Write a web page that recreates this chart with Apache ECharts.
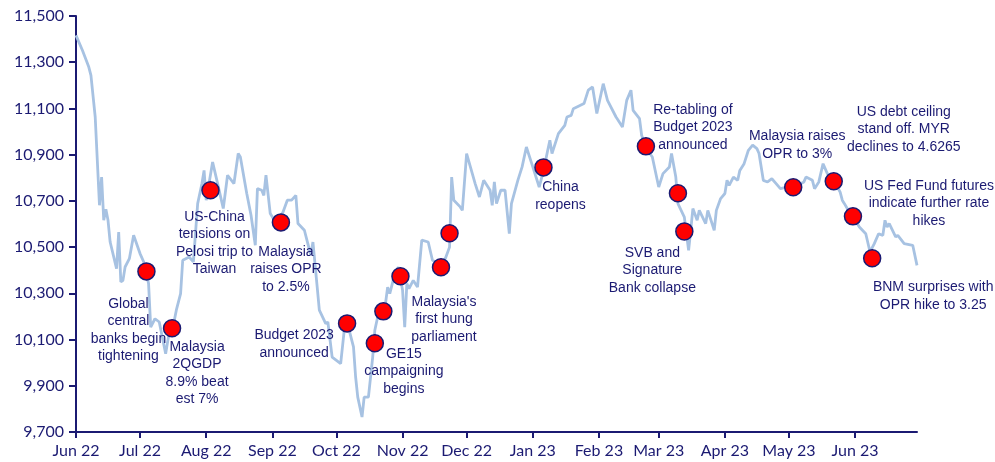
<!DOCTYPE html>
<html>
<head>
<meta charset="utf-8">
<script src="https://cdn.jsdelivr.net/npm/echarts@6/dist/echarts.min.js"></script>
<style>
html,body{margin:0;padding:0;background:#fff;}
#chart{width:995px;height:462px;}
</style>
</head>
<body>
<div id="chart"></div>
<script>
// ---- Data ----
const lineDates = [
'2022-06-01','2022-06-04','2022-06-07','2022-06-08','2022-06-10','2022-06-12','2022-06-13','2022-06-14','2022-06-15','2022-06-16',
'2022-06-17','2022-06-20','2022-06-21','2022-06-22','2022-06-23','2022-06-24','2022-06-26','2022-06-28','2022-07-01','2022-07-03',
'2022-07-05','2022-07-06','2022-07-08','2022-07-10','2022-07-13','2022-07-15','2022-07-17','2022-07-18','2022-07-20','2022-07-21',
'2022-07-24','2022-07-26','2022-07-28','2022-07-30','2022-07-31','2022-08-01','2022-08-04','2022-08-06','2022-08-09','2022-08-11',
'2022-08-14','2022-08-16','2022-08-17','2022-08-20','2022-08-22','2022-08-24','2022-08-25','2022-08-27','2022-08-28','2022-08-29',
'2022-08-31','2022-09-03','2022-09-06','2022-09-08','2022-09-10','2022-09-12','2022-09-13','2022-09-16','2022-09-19','2022-09-20',
'2022-09-22','2022-09-23','2022-09-26','2022-09-27','2022-09-29','2022-10-03','2022-10-05','2022-10-07','2022-10-09','2022-10-10',
'2022-10-11','2022-10-13','2022-10-14','2022-10-16','2022-10-18','2022-10-19','2022-10-21','2022-10-24','2022-10-25','2022-10-26',
'2022-10-28','2022-10-30','2022-11-01','2022-11-02','2022-11-03','2022-11-04','2022-11-06','2022-11-08','2022-11-10','2022-11-13',
'2022-11-15','2022-11-18','2022-11-21','2022-11-23','2022-11-24','2022-11-25','2022-11-28','2022-11-29','2022-12-01','2022-12-05',
'2022-12-07','2022-12-09','2022-12-12','2022-12-13','2022-12-14','2022-12-15','2022-12-17','2022-12-19','2022-12-21','2022-12-22',
'2022-12-25','2022-12-27','2022-12-29','2023-01-01','2023-01-04','2023-01-06','2023-01-08','2023-01-09','2023-01-10','2023-01-13',
'2023-01-16','2023-01-17','2023-01-19','2023-01-20','2023-01-25','2023-01-27','2023-01-29','2023-01-31','2023-02-03','2023-02-05',
'2023-02-09','2023-02-10','2023-02-12','2023-02-14','2023-02-16','2023-02-17','2023-02-20','2023-02-21','2023-02-23','2023-02-26',
'2023-03-01','2023-03-03','2023-03-06','2023-03-07','2023-03-09','2023-03-10','2023-03-13','2023-03-15','2023-03-16','2023-03-17',
'2023-03-19','2023-03-20','2023-03-23','2023-03-24','2023-03-27','2023-03-28','2023-03-30','2023-04-01','2023-04-02','2023-04-03',
'2023-04-05','2023-04-07','2023-04-08','2023-04-10','2023-04-12','2023-04-14','2023-04-16','2023-04-17','2023-04-19','2023-04-21',
'2023-04-23','2023-04-25','2023-04-27','2023-04-30','2023-05-05','2023-05-08','2023-05-09','2023-05-12','2023-05-13','2023-05-15',
'2023-05-17','2023-05-19','2023-05-22','2023-05-25','2023-05-26','2023-05-27','2023-05-30','2023-06-02','2023-06-03','2023-06-06',
'2023-06-08','2023-06-10','2023-06-12','2023-06-14','2023-06-15','2023-06-16','2023-06-17','2023-06-20','2023-06-21','2023-06-24',
'2023-06-28','2023-06-30'
];
const lineValues = [
11416,11352,11279,11243,11063,10681,10803,10616,10664,10616,
10522,10407,10565,10349,10356,10414,10450,10551,10472,10430,
10342,10154,10190,10176,10039,10150,10180,10227,10299,10443,
10457,10436,10688,10775,10832,10703,10868,10789,10667,10811,
10775,10905,10890,10732,10638,10508,10753,10746,10724,10811,
10645,10600,10652,10703,10703,10724,10602,10573,10465,10522,
10327,10227,10169,10176,10024,9996,10169,10140,10068,9938,
9851,9765,9851,9851,10024,10140,10227,10256,10327,10299,
10371,10414,10313,10154,10342,10320,10356,10327,10530,10522,
10443,10430,10450,10500,10803,10703,10674,10659,10905,10775,
10717,10789,10746,10681,10782,10688,10746,10746,10558,10688,
10789,10847,10933,10847,10760,10830,10919,10962,10905,10991,
11027,11063,11070,11099,11121,11179,11193,11078,11207,11135,
11063,11049,11020,11135,11179,11092,11056,10984,10930,10890,
10760,10818,10847,10905,10803,10688,10630,10486,10573,10667,
10616,10659,10602,10659,10573,10659,10710,10732,10789,10767,
10803,10789,10832,10861,10919,10941,10926,10905,10789,10782,
10796,10775,10753,10760,10767,10782,10803,10789,10753,10782,
10861,10818,10790,10738,10703,10688,10640,10602,10587,10558,
10479,10515,10558,10551,10616,10587,10602,10544,10551,10515,
10508,10421
];
const eventDates = ['2022-07-04','2022-07-16','2022-08-03','2022-09-05','2022-10-06','2022-10-19','2022-10-23','2022-10-31','2022-11-19','2022-11-23','2023-01-06','2023-02-23','2023-03-10','2023-03-13','2023-05-03','2023-05-22','2023-05-31','2023-06-09'];
const eventValues = [10395,10149,10746,10607,10170,10084,10222,10374,10413,10560,10845,10936,10733,10568,10759,10785,10633,10452];
const eventLabels = [
'Global\ncentral\nbanks begin\ntightening',
'Malaysia\n2QGDP\n8.9% beat\nest 7%',
'US-China\ntensions on\nPelosi trip to\nTaiwan',
'Malaysia\nraises OPR\nto 2.5%',
'Budget 2023\nannounced',
'GE15\ncampaigning\nbegins',
'', '',
"Malaysia's\nfirst hung\nparliament",
'',
'China\nreopens',
'Re-tabling of\nBudget 2023\nannounced',
'',
'SVB and\nSignature\nBank collapse',
'Malaysia raises\nOPR to 3%',
'US debt ceiling\nstand off. MYR\ndeclines to 4.6265',
'US Fed Fund futures\nindicate further rate\nhikes',
'BNM surprises with\nOPR hike to 3.25'
];
const yTicks = {min: 9700, max: 11500, step: 200};
const monthNames = ['Jan','Feb','Mar','Apr','May','Jun','Jul','Aug','Sep','Oct','Nov','Dec'];

// ---- Style / layout (not data) ----
const labelOffsets = [
[-18,59],[25,45],[4,53],[5,47],[-53,21],[29,28],[0,0],[0,0],[3,52],[0,0],
[17,29],[47,-19],[0,0],[-32,39],[4,-42],[70,-52],[76,-13],[61,38]
];
const navy = '#1b1a72';

const lineData = lineDates.map((d, i) => [d, lineValues[i]]);
const eventData = eventDates.map((d, i) => ({
  value: [d, eventValues[i]],
  label: {
    show: eventLabels[i] !== '',
    formatter: eventLabels[i],
    offset: labelOffsets[i]
  }
}));

const chart = echarts.init(document.getElementById('chart'), null, {renderer: 'canvas'});
chart.setOption({
  animation: false,
  grid: {left: 76, right: 78, top: 16, bottom: 30, containLabel: false},
  xAxis: {
    type: 'time',
    min: '2022-06-01',
    max: '2023-06-30',
    splitNumber: 13,
    axisLine: {show: true, lineStyle: {color: navy, width: 2}},
    axisTick: {show: true, length: 6, lineStyle: {color: navy, width: 2}},
    splitLine: {show: false},
    axisLabel: {
      color: navy, fontFamily: 'Lato', fontSize: 16, margin: 11,
      showMaxLabel: false,
      formatter: function (v) {
        const d = new Date(v);
        return monthNames[d.getMonth()] + ' ' + String(d.getFullYear()).slice(2);
      }
    }
  },
  yAxis: {
    type: 'value',
    min: yTicks.min, max: yTicks.max, interval: yTicks.step,
    axisLine: {show: true, lineStyle: {color: navy, width: 2}},
    axisTick: {show: true, length: 7, lineStyle: {color: navy, width: 2}},
    splitLine: {show: false},
    axisLabel: {
      color: navy, fontFamily: 'Lato', fontSize: 16, margin: 12,
      formatter: v => v.toLocaleString('en-US')
    }
  },
  series: [
    {
      type: 'line',
      data: lineData,
      showSymbol: false,
      lineStyle: {color: '#a7c2e2', width: 2.8},
      z: 2
    },
    {
      type: 'scatter',
      data: eventData,
      symbolSize: 17,
      itemStyle: {color: '#ff0000', borderColor: navy, borderWidth: 1.5, opacity: 1},
      label: {
        position: 'inside',
        color: navy,
        fontFamily: 'Liberation Sans',
        fontSize: 14,
        lineHeight: 17.5,
        align: 'center',
        verticalAlign: 'middle'
      },
      emphasis: {disabled: true},
      z: 3
    }
  ]
});
</script>
</body>
</html>
